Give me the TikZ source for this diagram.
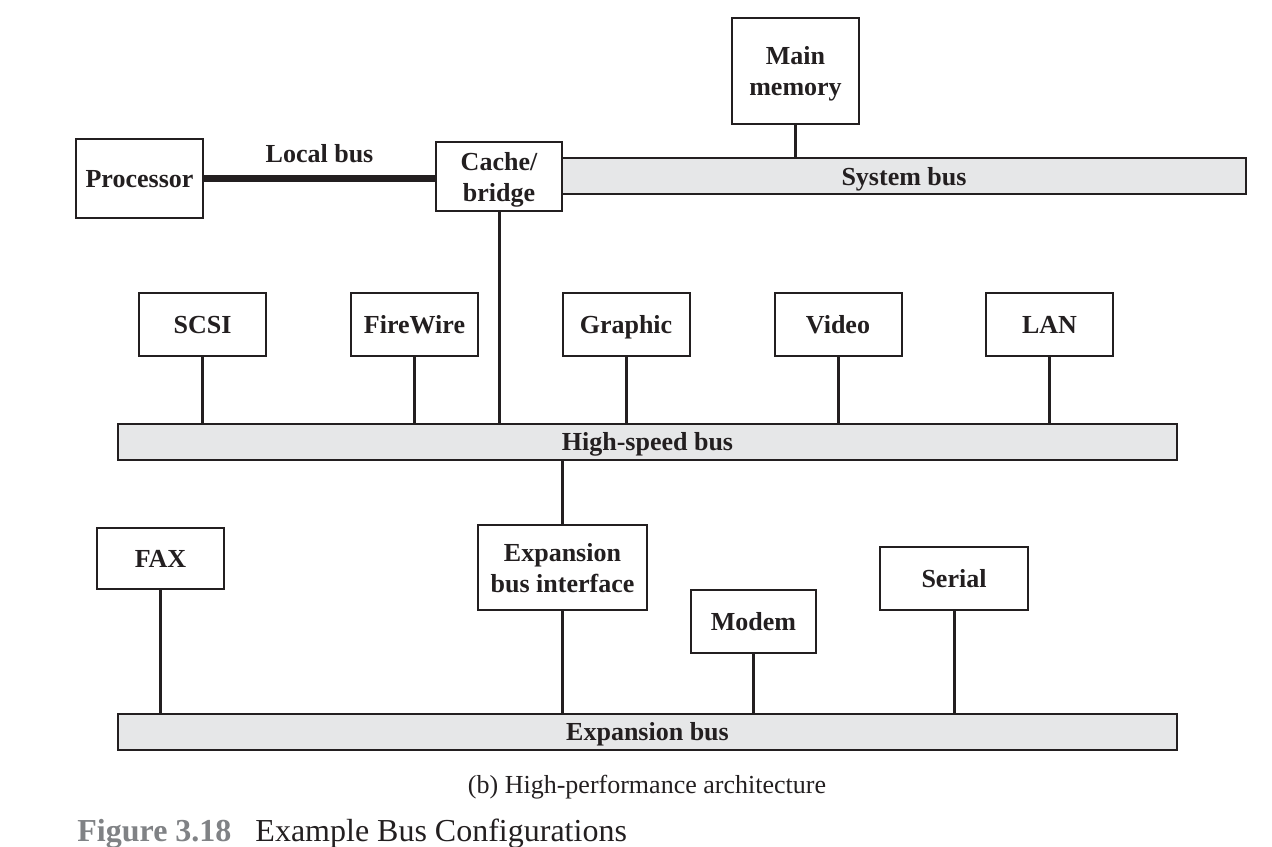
\documentclass[tikz,border=0pt]{standalone}
\usepackage{fontspec}
\setmainfont{Liberation Serif}
\usetikzlibrary{positioning}
\definecolor{busgray}{HTML}{E6E7E8}
\definecolor{ink}{HTML}{231F20}
\definecolor{figgray}{HTML}{808285}
\begin{document}
\begin{tikzpicture}[x=0.5pt,y=-0.5pt,font=\fontsize{13}{15.5}\selectfont\bfseries,
  every node/.style={text=ink},
  unit/.style={draw=ink,line width=1pt,fill=white,align=center,inner sep=0pt,text depth=0pt,minimum width=63.5pt,minimum height=31.5pt},
  bus/.style={draw=ink,line width=1pt,fill=busgray,inner sep=0pt,text depth=0pt,minimum height=18pt},
  wire/.style={draw=ink,line width=1.5pt}]
\useasboundingbox (0,0) rectangle (1272,846);
% buses
\node[bus,minimum width=342pt] (sysbus) at (904,176) {System bus};
\node[bus,minimum width=529.5pt] (hsbus) at (647.5,441.5) {High-speed bus};
\node[bus,minimum width=529.5pt] (expbus) at (647.5,731.5) {Expansion bus};
% top row
\node[unit,minimum height=53pt] (mem) at (795.5,71) {Main\\memory};
\node[unit,minimum height=39.5pt] (proc) at (139.5,178.5) {Processor};
\node[unit,minimum width=63pt,minimum height=34.5pt] (cache) at (499,176.5) {Cache/\\bridge};
\draw[wire] (mem) -- (mem |- sysbus.north);
\draw[ink,line width=3.5pt] (proc.east) -- node[above=6pt,inner sep=0pt] (localbus) {Local bus} (proc.east -| cache.west);
\draw[wire] (cache) -- (cache |- hsbus.north);
% high-speed devices
\foreach \name/\txt/\x in {scsi/SCSI/202.5,firewire/FireWire/414.5,graphic/Graphic/626,video/Video/838,lan/LAN/1049.5}{
  \node[unit] (\name) at (\x,324.5) {\txt};
  \draw[wire] (\name) -- (\name |- hsbus.north);
}
% expansion side
\node[unit,minimum width=84.5pt,minimum height=42.5pt] (ebi) at (562.5,567.5) {Expansion\\bus interface};
\draw[wire] (ebi) -- (ebi |- hsbus.south);
\draw[wire] (ebi) -- (ebi |- expbus.north);
\node[unit,minimum height=30.5pt] (fax) at (160.5,558.5) {FAX};
\node[unit,minimum width=62.5pt] (modem) at (753.5,621.5) {Modem};
\node[unit,minimum width=74pt] (serial) at (954,578.5) {Serial};
\foreach \name in {fax,modem,serial}
  \draw[wire] (\name) -- (\name |- expbus.north);
% captions
\node[anchor=base,font=\fontsize{13}{15}\selectfont] (sub) at (647,793) {(b) High-performance architecture};
\node[anchor=base west,inner sep=0pt,font=\fontsize{16}{19}\selectfont] (fig) at (77,841)
  {{\bfseries\color{figgray}Figure 3.18}\hspace{12pt}Example Bus Configurations};
\end{tikzpicture}
\end{document}
